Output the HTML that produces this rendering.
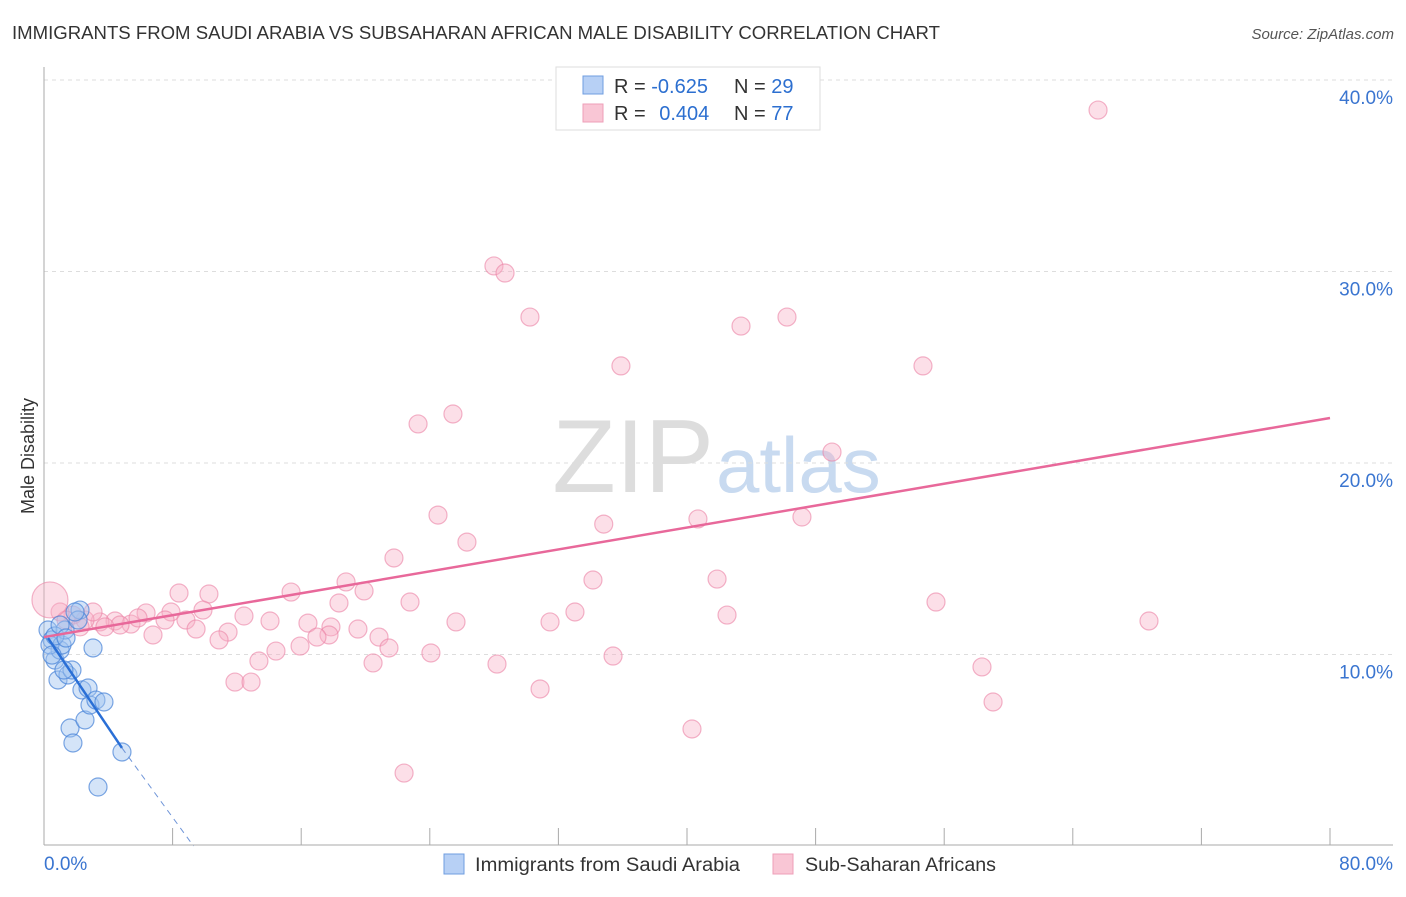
<!DOCTYPE html>
<html><head><meta charset="utf-8"><style>
body{margin:0;background:#fff;font-family:"Liberation Sans",sans-serif}
svg text{font-family:"Liberation Sans",sans-serif}
</style></head><body>
<svg id="c" width="1406" height="892" viewBox="0 0 1406 892">
<text x="12" y="39" font-size="18" fill="#333" textLength="928" lengthAdjust="spacingAndGlyphs">IMMIGRANTS FROM SAUDI ARABIA VS SUBSAHARAN AFRICAN MALE DISABILITY CORRELATION CHART</text>
<text x="1394" y="39" font-size="15" fill="#555" text-anchor="end" font-style="italic">Source: ZipAtlas.com</text>
<text x="714" y="492" font-size="104" fill="#ddd" text-anchor="end" font-family="Liberation Serif">ZIP</text>
<text x="716" y="492" font-size="78" fill="#c8daf0">atlas</text>
<g id="grid"></g><g id="pts"></g><g id="lines"></g>
<text transform="translate(34,456) rotate(-90)" font-size="18" fill="#333" text-anchor="middle">Male Disability</text>
<g>
<rect x="556" y="67" width="264" height="63" fill="#fff" stroke="#ddd"/>
<rect x="583" y="76" width="20" height="18" fill="#b7d0f5" stroke="#6f9ee0"/>
<rect x="583" y="104" width="20" height="18" fill="#f9c6d5" stroke="#ee9fb8"/>
<text x="614" y="93" font-size="20" fill="#333">R = <tspan fill="#2c6fd0">-0.625</tspan></text>
<text x="734" y="93" font-size="20" fill="#333">N = <tspan fill="#2c6fd0">29</tspan></text>
<text x="614" y="120" font-size="20" fill="#333">R = <tspan fill="#2c6fd0" dx="8">0.404</tspan></text>
<text x="734" y="120" font-size="20" fill="#333">N = <tspan fill="#2c6fd0">77</tspan></text>
</g>
<g>
<rect x="444" y="854" width="20" height="20" fill="#b7d0f5" stroke="#6f9ee0"/>
<text x="475" y="871" font-size="19" fill="#333" textLength="265" lengthAdjust="spacingAndGlyphs">Immigrants from Saudi Arabia</text>
<rect x="773" y="854" width="20" height="20" fill="#f9c6d5" stroke="#ee9fb8"/>
<text x="805" y="871" font-size="19" fill="#333" textLength="191" lengthAdjust="spacingAndGlyphs">Sub-Saharan Africans</text>
</g>
</svg>
<script>
const xTicks=[0,10,20,30,40,50,60,70,80];
const yTicks=[10,20,30,40];
const blueX=[0.25,0.5,0.68,1.0,0.37,0.87,1.12,1.31,1.49,1.74,1.62,1.8,2.24,2.12,2.36,2.55,2.74,2.86,3.05,3.23,3.73,3.36,4.85,0.68,1.24,1.93,1.0,1.37,0.5];
const blueY=[11.28,10.76,9.71,10.23,10.5,8.67,10.5,11.28,8.93,9.19,6.16,5.38,12.32,11.8,8.15,6.58,8.25,7.36,10.34,7.62,7.52,3.08,4.91,10.97,9.19,12.22,11.54,10.86,9.97];
const pinkX=[65.57,27.99,28.68,30.23,43.36,46.22,35.89,54.68,25.44,23.27,49.02,24.51,34.82,40.68,47.15,26.31,21.77,34.15,41.87,18.79,19.91,15.37,10.26,8.40,22.77,55.49,18.35,33.03,42.49,68.74,25.63,31.48,12.44,9.89,7.90,6.35,8.83,14.06,16.42,17.85,19.53,17.73,16.98,11.45,9.46,6.78,20.84,10.89,21.46,15.93,14.43,24.07,35.40,28.18,13.37,20.47,58.35,11.88,12.88,30.86,59.04,40.31,22.40,5.41,4.42,3.48,2.55,1.80,1.00,3.05,7.53,4.73,5.85,3.79,1.37,2.24,0.37];
const pinkY=[38.43,30.29,29.92,27.62,27.15,27.62,25.07,25.07,22.56,22.04,20.57,17.28,16.81,17.08,17.18,15.87,15.04,13.89,13.94,13.79,13.32,13.26,13.16,13.21,12.74,12.74,12.69,12.22,12.06,11.75,11.70,11.70,12.01,12.32,12.22,12.17,11.80,11.75,11.64,11.44,11.33,11.02,10.91,11.17,11.33,11.02,10.91,10.76,10.34,10.44,10.18,10.08,9.92,9.50,9.66,9.56,9.35,8.56,8.56,8.20,7.52,6.11,3.81,11.59,11.75,11.70,11.80,12.06,12.22,12.22,11.80,11.54,11.91,11.44,11.80,11.44,12.85];
const pinkR=[9,9,9,9,9,9,9,9,9,9,9,9,9,9,9,9,9,9,9,9,9,9,9,9,9,9,9,9,9,9,9,9,9,9,9,9,9,9,9,9,9,9,9,9,9,9,9,9,9,9,9,9,9,9,9,9,9,9,9,9,9,9,9,9,9,9,9,9,9,9,9,9,9,9,9,9,18];
const pinkTrend=[[0,10.91],[80,22.35]];
const blueTrend=[[0.25,10.86],[4.85,5.12]];
const blueDash=[[4.85,5.12],[9.3,0.0]];
const X=v=>44+v*16.075, Y=v=>846-v*19.15;
const NS='http://www.w3.org/2000/svg';
function mk(p,t,a){const e=document.createElementNS(NS,t);for(const k in a)e.setAttribute(k,a[k]);p.appendChild(e);return e;}
const g=document.getElementById('grid');
for(const t of yTicks){
 const l=mk(g,'line',{x1:44,x2:1393,y1:Y(t),y2:Y(t),stroke:'#ddd','stroke-dasharray':'4,4'});
 
 
 const tx=mk(g,'text',{x:1393,y:Y(t)+24,'font-size':19,fill:'#3a75d0','text-anchor':'end'});tx.textContent=t.toFixed(1)+'%';
 
 
}
mk(g,'line',{x1:44,x2:44,y1:67,y2:845,stroke:'#aaa'});
mk(g,'line',{x1:44,x2:1393,y1:845,y2:845,stroke:'#aaa'});
for(let i=0;i<=80;i+=8){const l=mk(g,'line',{x1:X(i),x2:X(i),y1:828,y2:845,stroke:'#aaa'});
 
 }
const t0=mk(g,'text',{x:44,y:870,'font-size':19,fill:'#3a75d0'});t0.textContent='0.0%';


const t1=mk(g,'text',{x:1393,y:870,'font-size':19,fill:'#3a75d0','text-anchor':'end'});t1.textContent='80.0%';


const P=document.getElementById('pts');
pinkX.forEach((x,i)=>{const c=mk(P,'circle',{cx:X(x),cy:Y(pinkY[i]),r:pinkR[i],fill:'rgba(248,175,198,0.4)',stroke:'rgba(235,130,165,0.6)','stroke-width':1.2});
 
 });
blueX.forEach((x,i)=>{const c=mk(P,'circle',{cx:X(x),cy:Y(blueY[i]),r:9,fill:'rgba(160,195,240,0.45)',stroke:'rgba(70,130,215,0.7)','stroke-width':1.2});
 
 });
const L=document.getElementById('lines');
let l=mk(L,'line',{x1:X(pinkTrend[0][0]),y1:Y(pinkTrend[0][1]),x2:X(pinkTrend[1][0]),y2:Y(pinkTrend[1][1]),stroke:'#e8689a','stroke-width':2.5});


l=mk(L,'line',{x1:X(blueTrend[0][0]),y1:Y(blueTrend[0][1]),x2:X(blueTrend[1][0]),y2:Y(blueTrend[1][1]),stroke:'#2a6fd6','stroke-width':2.5});


l=mk(L,'line',{x1:X(blueDash[0][0]),y1:Y(blueDash[0][1]),x2:X(blueDash[1][0]),y2:Y(blueDash[1][1]),stroke:'#6f95d8','stroke-width':1,'stroke-dasharray':'6,5'});


</script>
</body></html>
